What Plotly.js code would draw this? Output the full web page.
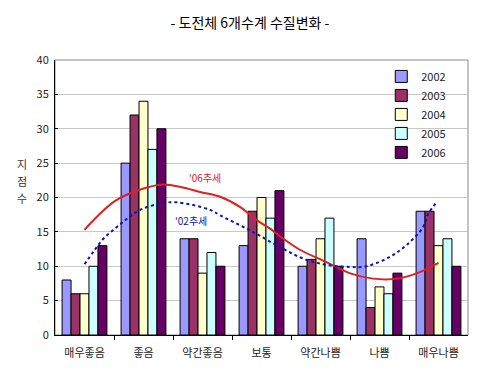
<!DOCTYPE html>
<html><head><meta charset="utf-8">
<script src="https://cdn.plot.ly/plotly-3.0.1.min.js"></script>
<style>html,body{margin:0;padding:0;background:#fff;}#chart{width:500px;height:380px;}</style>
</head><body><div id="chart"></div>
<script>
var categories = ["매우좋음","좋음","약간좋음","보통","약간나쁨","나쁨","매우나쁨"];
var years = ["2002","2003","2004","2005","2006"];
var v2002 = [8,25,14,13,10,14,18];
var v2003 = [6,32,14,18,11,4,18];
var v2004 = [6,34,9,20,14,7,13];
var v2005 = [10,27,12,17,17,6,14];
var v2006 = [13,30,10,21,10,9,10];
var colors = ["#9999FF","#993366","#FFFFCC","#CCFFFF","#660066"];
// trend curves (x in category units)
var trend06X = [0,0.52,1.0,1.34,1.65,1.96,2.3,2.64,2.92,3.14,3.37,3.65,4.1,4.49,4.89,5.3,5.64,6.0];
var trend06Y = [15.3,19.5,21.3,21.9,21.5,20.8,20.1,18.6,16.7,15.5,14.0,12.4,10.6,9.0,8.2,8.2,9.0,10.5];
var trend02X = [0,0.15,0.32,0.52,0.72,0.94,1.28,1.56,2.13,2.30,2.81,3.31,3.71,4.1,4.49,4.78,5.18,5.46,5.74,5.83,5.97];
var trend02Y = [10.3,12.1,14.0,15.5,16.9,18.2,19.1,19.3,18.2,17.4,15.2,12.8,11.1,10.2,9.9,10.0,11.4,13.1,15.7,17.7,19.3];
var yTitleChars = ["지","점","수"];

var xs = categories.map(function(c,i){return i;});
var series = [v2002,v2003,v2004,v2005,v2006];
var traces = series.map(function(s,k){
  return {type:"bar", x:xs, y:s, name:years[k],
    marker:{color:colors[k], line:{color:"#000", width:1}}};
});
traces.push({type:"scatter", mode:"lines", x:trend06X, y:trend06Y, showlegend:false,
  line:{color:"#E02020", width:2, shape:"spline"}, hoverinfo:"skip"});
traces.push({type:"scatter", mode:"lines", x:trend02X, y:trend02Y, showlegend:false,
  line:{color:"#1010B8", width:2, dash:"dot", shape:"spline"}, hoverinfo:"skip"});
traces.push({type:"scatter", x:[0], y:[0], xaxis:"x2", mode:"none", showlegend:false, hoverinfo:"skip"});

var font = "Noto Sans CJK KR, DejaVu Sans, sans-serif";
var annotations = yTitleChars.map(function(ch,i){
  return {text:ch, xref:"paper", yref:"paper", x:-0.08, y:0.622-0.062*i, showarrow:false,
    xanchor:"center", yanchor:"middle", font:{family:font, size:11, color:"#333"}};
});
annotations.push({text:"'06추세", xref:"x", yref:"y", x:2.05, y:22.9, showarrow:false,
  font:{family:font, size:10, color:"#E02020"}});
annotations.push({text:"'02추세", xref:"x", yref:"y", x:1.8, y:16.6, showarrow:false,
  font:{family:font, size:10, color:"#1010B8"}});

var layout = {
  width:500, height:380,
  margin:{l:55, r:32, t:60, b:45},
  paper_bgcolor:"#fff", plot_bgcolor:"#fff",
  font:{family:font, size:11, color:"#222"},
  title:{text:"- 도전체 6개수계 수질변화 -", x:0.5, xanchor:"center", y:0.94, yanchor:"middle",
    font:{family:font, size:14, color:"#000"}},
  barmode:"group", bargap:0.24, bargroupgap:0,
  showlegend:true,
  legend:{x:0.79, y:0.993, xanchor:"left", yanchor:"top", bgcolor:"rgba(255,255,255,0)",
    font:{family:font, size:11, color:"#222"}, tracegroupgap:0, itemwidth:30},
  xaxis:{type:"linear", range:[-0.5,6.5], tickvals:xs, ticktext:categories, ticks:"",
    ticklabelstandoff:8,
    showgrid:false, zeroline:false, showline:true, linecolor:"#000", linewidth:1, mirror:false,
    tickfont:{family:font, size:11, color:"#222"}},
  xaxis2:{overlaying:"x", matches:"x", range:[-0.5,6.5], tickvals:[0.5,1.5,2.5,3.5,4.5,5.5],
    ticks:"outside", ticklen:4, tickcolor:"#000", showticklabels:false, showgrid:false, zeroline:false, side:"bottom"},
  yaxis:{range:[0,40], dtick:5, showgrid:true, gridcolor:"#c8c8c8", zeroline:false,
    showline:true, linecolor:"#000", linewidth:1, ticks:"inside", ticklen:3, tickcolor:"#000",
    ticklabelstandoff:3,
    tickfont:{family:font, size:11, color:"#222"}},
  shapes:[{type:"rect", xref:"paper", yref:"paper", x0:0, x1:1, y0:0, y1:1,
    line:{color:"#888", width:1}, fillcolor:"rgba(0,0,0,0)", layer:"below"},
    {type:"rect", xref:"paper", yref:"paper", x0:0.855, x1:0.965, y0:0.7, y1:0.965,
    line:{width:0}, fillcolor:"#fff", layer:"below"}],
  annotations:annotations
};
Plotly.newPlot("chart", traces, layout, {displayModeBar:false, staticPlot:true});
</script></body></html>
